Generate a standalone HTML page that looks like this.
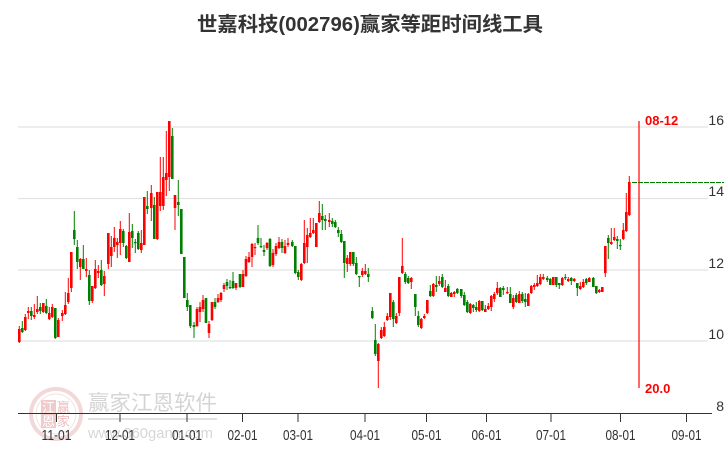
<!DOCTYPE html>
<html><head><meta charset="utf-8"><style>
html,body{margin:0;padding:0;background:#fff;}
svg{display:block;}
text{font-family:"Liberation Sans","Noto Sans CJK SC",sans-serif;}
</style></head><body>
<svg id="s" width="726" height="450" viewBox="0 0 726 450" xmlns="http://www.w3.org/2000/svg">
<rect width="726" height="450" fill="#fff"/>
<text x="370" y="31" text-anchor="middle" font-size="20" font-weight="bold" fill="#333" textLength="346" lengthAdjust="spacingAndGlyphs" style="font-family:'Liberation Sans','Noto Sans CJK SC',sans-serif">世嘉科技(002796)赢家等距时间线工具</text>
<!-- watermark -->
<g opacity="0.55">
<circle cx="56" cy="414" r="25" fill="none" stroke="#e9b9b9" stroke-width="4"/>
<circle cx="56" cy="414" r="20" fill="none" stroke="#efcaca" stroke-width="1"/>
<rect x="41" y="400" width="15" height="14" fill="#e2a2a2"/>
<rect x="41" y="414" width="15" height="14" fill="#e2a2a2"/>
<text x="48.5" y="412" text-anchor="middle" font-size="13" fill="#fff" style="font-family:'Noto Sans CJK SC',sans-serif">江</text>
<text x="63.5" y="412" text-anchor="middle" font-size="13" fill="#d88" style="font-family:'Noto Sans CJK SC',sans-serif">赢</text>
<text x="48.5" y="426" text-anchor="middle" font-size="13" fill="#fff" style="font-family:'Noto Sans CJK SC',sans-serif">恩</text>
<text x="63.5" y="426" text-anchor="middle" font-size="13" fill="#d88" style="font-family:'Noto Sans CJK SC',sans-serif">家</text>
</g>
<text x="88" y="410" font-size="21" fill="#d4d4d4" textLength="129" lengthAdjust="spacingAndGlyphs" style="font-family:'Noto Sans CJK SC',sans-serif">赢家江恩软件</text>
<line x1="88" y1="419" x2="217" y2="419" stroke="#e2e2e2" stroke-width="2"/>
<text x="88" y="438" font-size="15" fill="#d6d6d6" textLength="125" lengthAdjust="spacingAndGlyphs">www.360gann.com</text>
<!-- grid -->
<g stroke="#e2e2e2" stroke-width="1.3">
<line x1="18" y1="127" x2="708" y2="127"/>
<line x1="18" y1="198.5" x2="708" y2="198.5"/>
<line x1="18" y1="270" x2="708" y2="270"/>
<line x1="18" y1="341" x2="708" y2="341"/>
</g>
<g id="c"></g>
<!-- markers -->
<line x1="632" y1="182.5" x2="724" y2="182.5" stroke="#008000" stroke-width="1" stroke-dasharray="5,1"/>
<line x1="639" y1="121" x2="639" y2="388" stroke="#ff0000" stroke-width="1.2"/>
<text x="645" y="125" font-size="13" font-weight="bold" fill="#ff0000">08-12</text>
<text x="645" y="393" font-size="13" font-weight="bold" fill="#ff0000">20.0</text>
<!-- y labels -->
<g font-size="14" fill="#333" text-anchor="end">
<text x="724" y="125">16</text>
<text x="724" y="196">14</text>
<text x="724" y="268">12</text>
<text x="724" y="339">10</text>
<text x="724" y="411">8</text>
</g>
<!-- x axis -->
<line x1="18" y1="413.5" x2="712" y2="413.5" stroke="#333" stroke-width="1"/>
<g stroke="#333" stroke-width="1">
<line x1="56.5" y1="413" x2="56.5" y2="422"/>
<line x1="120" y1="413" x2="120" y2="422"/>
<line x1="187" y1="413" x2="187" y2="422"/>
<line x1="242.5" y1="413" x2="242.5" y2="422"/>
<line x1="298" y1="413" x2="298" y2="422"/>
<line x1="365" y1="413" x2="365" y2="422"/>
<line x1="426.5" y1="413" x2="426.5" y2="422"/>
<line x1="486.5" y1="413" x2="486.5" y2="422"/>
<line x1="551" y1="413" x2="551" y2="422"/>
<line x1="620.5" y1="413" x2="620.5" y2="422"/>
<line x1="686.5" y1="413" x2="686.5" y2="422"/>
</g>
<g font-size="15" fill="#333" text-anchor="middle">
<text x="56.5" y="440" textLength="30" lengthAdjust="spacingAndGlyphs">11-01</text>
<text x="120" y="440" textLength="30" lengthAdjust="spacingAndGlyphs">12-01</text>
<text x="187" y="440" textLength="30" lengthAdjust="spacingAndGlyphs">01-01</text>
<text x="242.5" y="440" textLength="30" lengthAdjust="spacingAndGlyphs">02-01</text>
<text x="298" y="440" textLength="30" lengthAdjust="spacingAndGlyphs">03-01</text>
<text x="365" y="440" textLength="30" lengthAdjust="spacingAndGlyphs">04-01</text>
<text x="426.5" y="440" textLength="30" lengthAdjust="spacingAndGlyphs">05-01</text>
<text x="486.5" y="440" textLength="30" lengthAdjust="spacingAndGlyphs">06-01</text>
<text x="551" y="440" textLength="30" lengthAdjust="spacingAndGlyphs">07-01</text>
<text x="620.5" y="440" textLength="30" lengthAdjust="spacingAndGlyphs">08-01</text>
<text x="686.5" y="440" textLength="30" lengthAdjust="spacingAndGlyphs">09-01</text>
</g>
</svg>
<script>
var d=[
[19.3,329,342,326,343,1],[22.3,328,332,321,333,0],[25.3,317,330,314,331,1],[28.3,311,313,307,319,1],[31.3,311,316,307,320,0],
[34.3,315,317,304,319,1],[37.3,309,312,296,314,1],[40.3,307,311,303,314,0],[43.3,303,312,303,313,1],[46.3,306,313,299,314,0],
[49.3,313,319,307,320,1],[52.3,307,317,304,318,1],[55.3,308,338,308,339,0],[58.3,320,337,318,337,1],[62.3,313,316,310,321,1],
[65.3,305,314,292,315,1],[68.3,293,302,278,304,1],[71.3,252,288,252,292,1],[74.3,230,239,211,245,0],[77.3,247,262,240,269,0],
[80.3,259,267,258,280,1],[83.3,259,269,245,269,0],[86.3,269,271,258,277,1],[89.3,275,301,270,305,0],[92.3,286,301,286,303,1],
[95.3,269,288,260,289,1],[98.3,271,273,265,278,1],[101.3,270,285,260,286,0],[104.3,276,284,271,296,1],[108.3,233,264,233,269,1],
[111.3,247,256,236,267,1],[114.3,238,247,227,252,1],[117.3,242,245,238,258,1],[120.3,229,243,221,255,1],[123.3,231,243,229,247,0],
[126.3,246,258,245,259,0],[129.3,232,262,213,262,1],[132.3,231,238,224,248,0],[135.3,242,243,239,253,0],[138.3,233,249,231,250,0],
[141.3,243,250,230,253,1],[144.3,197,245,197,245,1],[147.3,206,209,191,214,0],[151.3,193,208,185,221,1],[154.3,205,239,197,239,0],
[157.3,192,239,192,240,1],[160.3,192,206,157,211,1],[163.3,177,206,157,210,1],[166.3,173,180,131,196,1],[169.3,121,177,121,191,1],
[172.3,136,179,128,179,0],[175,195,208,195,230,1],[178.3,202,205,180,216,0],[181.3,209,254,209,254,0],[184.3,257,298,257,298,0],
[187.3,300,307,293,311,0],[190.3,305,326,305,328,0],[194,325,327,322,338,0],[197,309,326,307,327,1],[200,307,312,302,322,1],
[203,300,309,295,312,1],[206,298,323,298,323,0],[209,324,333,321,338,1],[212,302,320,302,321,1],[215,302,307,298,309,0],
[218,298,302,294,303,1],[221,293,300,292,302,1],[224,285,289,283,292,1],[227,282,286,279,290,0],[230,287,288,280,289,0],
[233,281,288,272,289,0],[236,283,288,283,290,1],[240,274,287,274,288,0],[243,274,287,270,287,1],[246,259,276,256,277,1],
[249,257,262,252,263,1],[252,244,257,243,267,1],[255,247,248,243,255,1],[258,238,243,225,245,0],[261,246,247,238,248,0],
[264,250,252,245,256,0],[267,243,248,242,250,1],[270,239,266,238,267,0],[273,253,265,249,267,1],[276,246,254,243,256,1],
[279,242,248,237,249,1],[282,242,248,239,253,0],[285,246,253,240,254,1],[288,243,245,238,247,1],[292.3,242,246,240,247,0],
[295.3,246,273,246,274,0],[298.3,272,277,270,280,0],[301.3,264,280,263,281,1],[304.3,243,263,220,264,1],[307.3,235,247,228,263,1],
[310.3,233,237,218,238,1],[313.3,230,233,218,234,1],[316.3,223,247,223,247,1],[319.3,213,222,201,223,1],[322.3,216,220,204,230,0],
[325.3,219,221,215,230,0],[329.3,220,222,213,227,1],[332.3,221,224,218,227,0],[335.3,222,227,220,228,0],[338.3,230,233,227,237,0],
[341.3,234,242,230,243,0],[344.3,241,263,241,278,0],[347.3,258,264,255,272,1],[350.3,252,264,252,266,1],[353.3,252,264,252,266,0],
[356.3,263,274,257,275,0],[359.3,276,277,276,287,0],[362.3,271,275,268,277,1],[365.3,271,274,264,275,1],[368.3,274,277,268,282,0],
[372.3,311,318,307,319,0],[375.3,340,354,324,356,0],[378.3,344,361,343,388,1],[381.3,330,338,327,339,1],[384.3,327,336,322,337,1],
[387.3,316,320,313,321,1],[390.3,293,317,293,320,1],[393.3,302,319,300,327,0],[396.3,316,323,313,324,1],[399.3,277,313,277,316,1],
[402.3,266,273,238,274,1],[405.3,274,282,272,284,0],[408.3,278,283,276,284,0],[411.3,278,282,277,289,1],[415.3,294,307,294,316,0],
[418.3,316,325,311,327,0],[421.3,319,328,318,329,1],[424.3,316,318,314,319,1],[427.3,300,313,300,314,1],[430.3,291,296,285,297,0],
[433.3,284,296,283,297,1],[436.3,285,287,276,292,0],[439.3,281,284,276,286,1],[442.3,277,287,274,288,0],[445.3,288,292,280,292,1],
[448.3,286,296,284,297,0],[451.3,293,297,292,297,1],[454.3,292,294,291,297,1],[457.3,289,293,288,294,0],[461.3,289,296,289,298,0],
[464.3,295,305,292,306,0],[467.3,302,312,300,313,0],[470.3,304,313,303,314,1],[473.3,305,308,304,312,0],[476.3,307,310,302,312,0],
[479.3,301,311,300,312,1],[482.3,301,310,301,311,0],[485.3,309,312,305,312,1],[488.3,306,309,303,310,1],[491.3,296,307,295,311,1],
[494.3,294,299,292,302,1],[497.3,288,293,282,295,1],[500.3,288,297,287,297,0],[503.3,288,290,286,295,0],[507.3,292,293,287,294,1],
[510.3,294,303,287,303,0],[513.3,298,307,295,309,1],[516.3,295,302,293,303,0],[519.3,294,303,291,303,1],[522.3,294,301,292,303,0],
[525.3,299,302,293,307,0],[528.3,294,306,293,306,1],[531.3,286,293,285,294,1],[534.3,285,287,283,290,1],[537.3,283,286,275,287,1],
[540.3,277,284,274,285,1],[543.3,277,279,274,280,1],[547.3,278,280,276,282,0],[550.3,279,285,278,285,0],[553.3,277,285,277,285,1],
[556.3,277,285,277,287,0],[559.3,283,285,283,289,0],[562.3,278,285,277,286,1],[565.3,277,278,274,280,0],[568.3,279,281,277,282,1],
[571.3,278,281,277,285,0],[574.3,279,281,278,282,1],[577.3,283,288,283,296,0],[580.3,286,289,282,290,1],[583.3,282,287,279,288,1],
[586.3,279,283,278,285,0],[589.3,278,282,277,282,1],[593.3,278,287,277,287,0],[596.3,286,293,286,294,0],[599.3,290,292,289,293,1],
[602.3,287,292,287,292,1],[605.3,246,273,246,277,1],[608.3,238,243,235,259,0],[611.3,242,244,228,245,1],[614.3,237,240,228,241,1],
[617.3,239,241,236,249,0],[620.3,245,246,239,250,0],[623.3,230,239,223,240,1],[626.3,212,231,193,232,1],[629.3,182,215,176,216,1]
];
var g=document.getElementById('c'),ns='http://www.w3.org/2000/svg',h='';
for(var i=0;i<d.length;i++){
 var c=d[i],col=c[5]?'#ff0000':'#008000';
 var bt=c[1],bb=c[2];if(bb-bt<1.2){bb=bt+1.2;}
 h+='<line x1="'+c[0]+'" y1="'+c[3]+'" x2="'+c[0]+'" y2="'+c[4]+'" stroke="'+col+'" stroke-width="1"/>';
 h+='<rect x="'+(c[0]-1.3)+'" y="'+bt+'" width="2.6" height="'+(bb-bt)+'" fill="'+col+'"/>';
}
g.innerHTML=h;
</script>
</body></html>
